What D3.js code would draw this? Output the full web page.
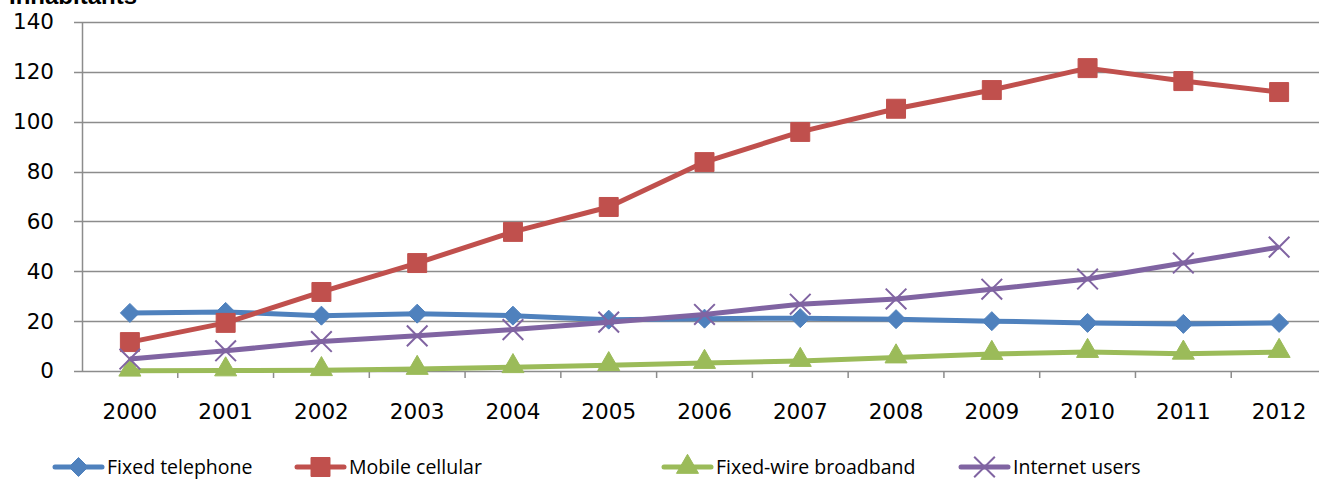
<!DOCTYPE html>
<html>
<head>
<meta charset="utf-8">
<script src="https://cdn.jsdelivr.net/npm/d3@7"></script>
<style>
  body { margin: 0; background: #fff; overflow: hidden; }
  text { font-family: "DejaVu Sans", Verdana, sans-serif; }
</style>
</head>
<body>
<div id="chart"></div>
<script>
const years = ["2000","2001","2002","2003","2004","2005","2006","2007","2008","2009","2010","2011","2012"];
const fixedTelephone = [23.3, 23.7, 22.2, 23.0, 22.2, 20.6, 21.0, 21.2, 20.8, 20.0, 19.3, 18.9, 19.3];
const mobileCellular = [11.6, 19.3, 31.7, 43.3, 55.8, 65.8, 83.8, 95.9, 105.2, 112.7, 121.5, 116.3, 111.9];
const fixedBroadband = [0.1, 0.2, 0.3, 0.8, 1.5, 2.3, 3.2, 4.0, 5.4, 6.8, 7.6, 6.9, 7.6];
const internetUsers = [4.8, 8.1, 11.8, 14.1, 16.6, 19.6, 22.7, 26.8, 28.9, 32.8, 36.9, 43.3, 49.7];
const yTicks = [0, 20, 40, 60, 80, 100, 120, 140];

const series = [
  {name: "Fixed telephone", values: fixedTelephone, color: "#4F81BD", marker: "diamond"},
  {name: "Mobile cellular", values: mobileCellular, color: "#C0504D", marker: "square"},
  {name: "Fixed-wire broadband", values: fixedBroadband, color: "#9BBB59", marker: "triangle"},
  {name: "Internet users", values: internetUsers, color: "#8064A2", marker: "cross"}
];

const width = 1319, height = 479;
const plotLeft = 82, plotRight = 1327, plotTop = 22, plotBottom = 371;

const svg = d3.select("#chart").append("svg")
  .attr("width", width)
  .attr("height", height);

const x = d3.scaleBand().domain(years).range([plotLeft, plotRight]);
const y = d3.scaleLinear().domain([0, 140]).range([plotBottom, plotTop]);

// axis title, cut off at the top of the frame
svg.append("text")
  .attr("x", 137).attr("y", 4)
  .attr("text-anchor", "end")
  .style("font-family", "Liberation Sans, Arial, sans-serif")
  .attr("font-weight", "bold")
  .attr("font-size", 24)
  .text("Inhabitants");

// gridlines
svg.append("g")
  .selectAll("line")
  .data(yTicks)
  .join("line")
  .attr("x1", plotLeft - 8).attr("x2", plotRight)
  .attr("y1", d => Math.round(y(d)) + 0.5).attr("y2", d => Math.round(y(d)) + 0.5)
  .attr("stroke", "#8c8c8c").attr("stroke-width", 1.5);

// y axis
const yAxis = svg.append("g")
  .attr("transform", `translate(${plotLeft}, 0)`)
  .call(d3.axisLeft(y).tickValues(yTicks).tickSize(0).tickPadding(28));
yAxis.select(".domain").attr("stroke", "#8c8c8c").attr("stroke-width", 1.5);
yAxis.selectAll("text").attr("font-size", 21.5).attr("fill", "#000")
  .style("font-family", "DejaVu Sans, Verdana, sans-serif");

// x axis
const xAxis = svg.append("g")
  .attr("transform", `translate(0, ${plotBottom})`)
  .call(d3.axisBottom(x).tickSize(0).tickPadding(33));
xAxis.select(".domain").remove();
xAxis.selectAll("text").attr("font-size", 21.5).attr("fill", "#000")
  .style("font-family", "DejaVu Sans, Verdana, sans-serif");
svg.append("g")
  .selectAll("line")
  .data(years.slice(1))
  .join("line")
  .attr("x1", d => x(d)).attr("x2", d => x(d))
  .attr("y1", plotBottom).attr("y2", plotBottom + 7)
  .attr("stroke", "#8c8c8c").attr("stroke-width", 1.5);

const symbolFor = {
  diamond: d3.symbol().type(d3.symbolDiamond2).size(230),
  square: d3.symbol().type(d3.symbolSquare).size(360),
  triangle: d3.symbol().type(d3.symbolTriangle).size(210),
  cross: d3.symbol().type(d3.symbolX).size(280)
};

const cx = i => x(years[i]) + x.bandwidth() / 2;
const line = d3.line().x((d, i) => cx(i)).y(d => y(d));

series.forEach(s => {
  const g = svg.append("g");
  g.append("path")
    .attr("d", line(s.values))
    .attr("fill", "none")
    .attr("stroke", s.color)
    .attr("stroke-width", 5)
    .attr("stroke-linejoin", "round");
  g.selectAll("path.m")
    .data(s.values)
    .join("path")
    .attr("class", "m")
    .attr("transform", (d, i) => `translate(${cx(i)}, ${y(d) + (s.marker === "triangle" ? -1 : 0)})`)
    .attr("d", symbolFor[s.marker]())
    .attr("fill", s.marker === "cross" ? "none" : s.color)
    .attr("stroke", s.color)
    .attr("stroke-width", s.marker === "cross" ? 2 : 1);
});

// legend
const legendX = [55, 297, 664, 961];
const legendY = 467;
series.forEach((s, i) => {
  const g = svg.append("g").attr("transform", `translate(${legendX[i]}, ${legendY})`);
  g.append("line")
    .attr("x1", 0).attr("x2", 47)
    .attr("stroke", s.color).attr("stroke-width", 5).attr("stroke-linecap", "round");
  g.append("path")
    .attr("transform", `translate(23.5, 0)`)
    .attr("d", symbolFor[s.marker]())
    .attr("fill", s.marker === "cross" ? "none" : s.color)
    .attr("stroke", s.color)
    .attr("stroke-width", s.marker === "cross" ? 2 : 1);
  g.append("text")
    .attr("x", 52).attr("y", 6.5)
    .attr("font-size", 19.5)
    .style("font-family", "Open Sans, sans-serif")
    .attr("fill", "#000")
    .text(s.name);
});
</script>
</body>
</html>
